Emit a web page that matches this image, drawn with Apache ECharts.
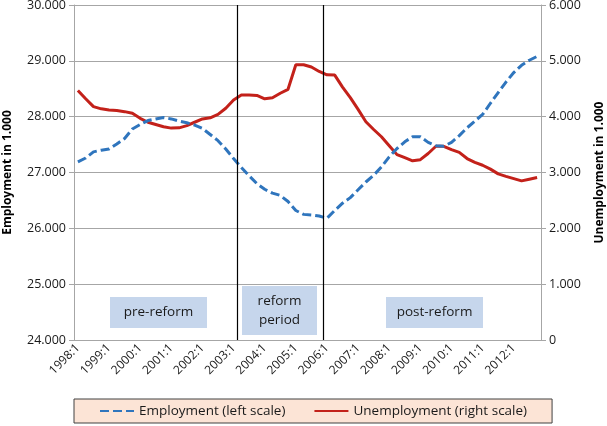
<!DOCTYPE html>
<html>
<head>
<meta charset="utf-8">
<script src="https://cdn.jsdelivr.net/npm/echarts@6/dist/echarts.min.js"></script>
<style>
    body { margin: 0; background: #fff; }
    #main { width: 607px; height: 426px; }
</style>
</head>
<body>
<div id="main"></div>
<script>
    // quarters 1998:1 .. 2012:4
    var quarters = [];
    for (var y = 1998; y <= 2012; y++) {
        for (var q = 1; q <= 4; q++) quarters.push(y + ':' + q);
    }

    // employment, left scale (in 1.000)
    var employment = [
        27190, 27260, 27370, 27400, 27420, 27510, 27610, 27780, 27860, 27930,
        27960, 27985, 27960, 27920, 27890, 27850, 27790, 27680, 27570, 27420,
        27250, 27090, 26940, 26800, 26700, 26630, 26590, 26480, 26320, 26250,
        26240, 26220, 26180, 26320, 26450, 26550, 26690, 26830, 26950, 27100,
        27280, 27430, 27550, 27640, 27640, 27540, 27480, 27470, 27540, 27660,
        27800, 27920, 28040, 28240, 28430, 28620, 28790, 28920, 29010, 29080
    ];

    // unemployment, right scale (in 1.000)
    var unemployment = [
        4470, 4320, 4180, 4140, 4120, 4110, 4090, 4060, 3970, 3900,
        3860, 3820, 3795, 3800, 3840, 3900, 3960, 3980, 4040, 4150,
        4300, 4390, 4390, 4380, 4320, 4340, 4420, 4490, 4930, 4930,
        4890, 4810, 4750, 4745, 4530, 4340, 4130, 3910, 3770, 3640,
        3480, 3320, 3265, 3210, 3230, 3340, 3470, 3470, 3410, 3360,
        3250, 3180, 3130, 3060, 2975, 2930, 2890, 2850, 2880, 2910
    ];

    // period boundaries (start quarter of the next period)
    var reformBounds = ['2003:2', '2006:1'];

    var fmt = function (v) {
        return v === 0 ? '0' : (v / 1000).toFixed(3);
    };
    var font = 'Open Sans';
    var grey = '#a6a6a6';

    var chart = echarts.init(document.getElementById('main'));

    function box(x, y, w, h, text) {
        return {
            type: 'group',
            left: x, top: y,
            children: [{
                type: 'rect',
                shape: { x: 0, y: 0, width: w, height: h },
                style: { fill: '#c6d6ec' }
            }, {
                type: 'text',
                x: w / 2, y: h / 2,
                style: {
                    text: text, fill: '#1a1a1a', font: '13.5px "Open Sans"',
                    align: 'center', verticalAlign: 'middle', lineHeight: 19
                }
            }]
        };
    }

    chart.setOption({
        animation: false,
        grid: { left: 74, right: 66, top: 5, bottom: 86, outerBoundsMode: 'none' },
        legend: {
            data: ['Employment (left scale)', 'Unemployment (right scale)'],
            left: 74, top: 399,
            backgroundColor: '#fce4d6',
            borderColor: '#404040',
            borderWidth: 1,
            borderRadius: 0,
            padding: [5, 25, 5, 25],
            itemWidth: 34,
            itemHeight: 14,
            itemGap: 28,
            itemStyle: { opacity: 0 },
            textStyle: { fontFamily: font, fontSize: 13.5, color: '#1a1a1a' }
        },
        xAxis: [{
            type: 'category',
            data: quarters,
            boundaryGap: true,
            axisLine: { lineStyle: { color: grey } },
            axisTick: { interval: 0, length: 5, lineStyle: { color: grey } },
            axisLabel: {
                interval: 3, rotate: 45, margin: 6,
                fontFamily: font, fontSize: 12, color: '#1a1a1a'
            }
        }, {
            type: 'value', min: 0, max: quarters.length, show: false
        }],
        yAxis: [{
            type: 'value',
            name: 'Employment in 1.000',
            nameLocation: 'middle',
            nameGap: 60,
            nameTextStyle: { fontFamily: font, fontSize: 12, fontWeight: 'bold', color: '#000' },
            min: 24000, max: 30000, interval: 1000,
            axisLine: { show: true, lineStyle: { color: grey } },
            axisTick: { show: true, length: 5, lineStyle: { color: grey } },
            axisLabel: { formatter: fmt, fontFamily: font, fontSize: 12.5, color: '#1a1a1a', margin: 8 },
            splitLine: { lineStyle: { color: grey } }
        }, {
            type: 'value',
            name: 'Unemployment in 1.000',
            nameLocation: 'middle',
            nameGap: 53,
            nameRotate: 90,
            nameTextStyle: { fontFamily: font, fontSize: 12, fontWeight: 'bold', color: '#000' },
            min: 0, max: 6000, interval: 1000,
            axisLine: { show: true, lineStyle: { color: grey } },
            axisTick: { show: true, length: 5, lineStyle: { color: grey } },
            axisLabel: { formatter: fmt, fontFamily: font, fontSize: 12.5, color: '#1a1a1a', margin: 8 },
            splitLine: { show: false }
        }],
        series: [{
            name: 'reform',
            type: 'line',
            xAxisIndex: 1,
            yAxisIndex: 0,
            data: [],
            markLine: {
                silent: true,
                symbol: 'none',
                label: { show: false },
                lineStyle: { color: '#000', width: 1.2, type: 'solid' },
                data: reformBounds.map(function (b) { return { xAxis: quarters.indexOf(b) }; })
            }
        }, {
            name: 'Employment (left scale)',
            type: 'line',
            yAxisIndex: 0,
            data: employment,
            symbol: 'none',
            z: 3,
            lineStyle: { color: '#2f75bd', width: 3, type: [9, 4] },
            itemStyle: { color: '#2f75bd' }
        }, {
            name: 'Unemployment (right scale)',
            type: 'line',
            yAxisIndex: 1,
            data: unemployment,
            symbol: 'none',
            z: 2,
            lineStyle: { color: '#c3211a', width: 3 },
            itemStyle: { color: '#c3211a' }
        }],
        graphic: [
            box(110, 297, 97, 31, 'pre-reform'),
            box(242, 286, 75, 49, 'reform\nperiod'),
            box(386, 297, 97, 31, 'post-reform')
        ]
    });
</script>
</body>
</html>
